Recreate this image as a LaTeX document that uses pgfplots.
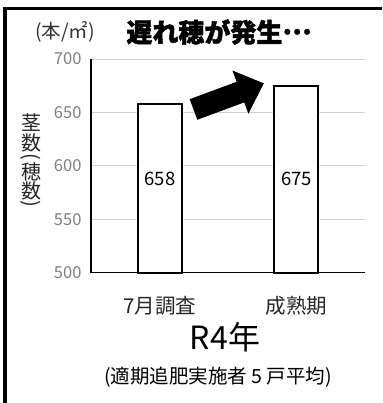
\documentclass[border=0pt]{standalone}
\usepackage{pgfplots}
\pgfplotsset{compat=1.18}
\usepackage{fontspec}
\setmainfont{Noto Sans CJK JP}
\newfontfamily\heavy{Noto Sans CJK JP}[BoldFeatures={FakeBold=1.5}]
\begin{document}
\begin{tikzpicture}[x=1pt,y=1pt]
\useasboundingbox (0,0) rectangle (382,403);
\fill[black] (3.2,0) rectangle (6.8,396.3);
\fill[black] (3.2,392.7) rectangle (382,396.3);
\begin{axis}[
  at={(91pt,130.3pt)}, anchor=south west,
  scale only axis, width=274pt, height=213.7pt,
  xmin=-0.5055, xmax=1.502, ymin=500, ymax=700,
  ytick={500,550,600,650,700},
  ymajorgrids, grid style={draw=black!18, line width=0.8pt},
  axis x line*=bottom, axis y line*=left,
  axis line style={-, black, line width=1.6pt},
  xtick={0,1}, xticklabels={7月調査,成熟期},
  major tick length=0pt,
  /pgf/number format/assume math mode=true,
  yticklabel style={text=black!50, font=\fontsize{16.5}{16.5}\selectfont, xshift=-6pt},
  xticklabel style={text=black!85, font=\fontsize{20.5}{20.5}\selectfont, anchor=base, yshift=-41pt},
  clip=false,
]
\addplot[ybar, bar width=44pt, fill=white, draw=black, line width=2pt] coordinates {(0,658) (1,675)};
\node[font=\fontsize{18.5}{18.5}\selectfont] at (axis cs:0,588) {658};
\node[font=\fontsize{18.5}{18.5}\selectfont] at (axis cs:1,588) {675};
\end{axis}
\fill[black] (189.7,303.8) -- (236.6,321.2) -- (232.4,332.5) -- (263.8,319.6) -- (248.4,289.3) -- (244.2,300.6) -- (197.3,283.2) -- cycle;
\node[font=\fontsize{26}{26}\selectfont\heavy\bfseries] at (219,371) {遅れ穂が発生\raisebox{0.3em}{…}};
\node[font=\fontsize{19.5}{19.5}\selectfont, text=black!80] at (65,371) {(本/㎡)};
\begin{scope}[every node/.style={font=\fontsize{20}{20}\selectfont, text=black!85, inner sep=0pt}]
\node at (31,280.5) {茎};
\node at (31,260) {数};
\node at (31,244.5) {\rotatebox[origin=c]{-90}{(}};
\node at (31,231.5) {穂};
\node at (31,212) {数};
\node at (31,198) {\rotatebox[origin=c]{-90}{)}};
\end{scope}
\node[font=\fontsize{32}{32}\selectfont] at (225,66) {R4年};
\node[font=\fontsize{19.5}{19.5}\selectfont] at (218,26) {(適期追肥実施者 5 戸平均)};
\end{tikzpicture}
\end{document}
